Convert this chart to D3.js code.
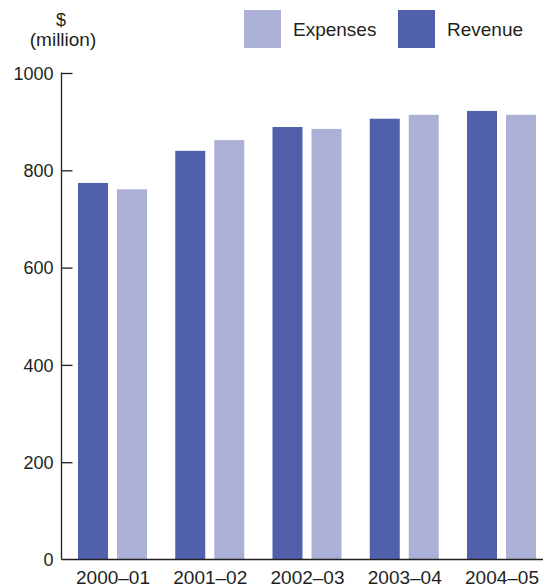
<!DOCTYPE html>
<html>
<head>
<meta charset="utf-8">
<script src="https://cdn.jsdelivr.net/npm/d3@7"></script>
<style>
  html, body { margin: 0; padding: 0; background: #fff; }
  svg { display: block; }
  text { font-family: "Liberation Sans", Arial, Helvetica, sans-serif; fill: #231f20; }
</style>
</head>
<body>
<svg id="chart" width="543" height="588"></svg>
<script>
// Financial years shown along the x axis
const years = ["2000–01", "2001–02", "2002–03", "2003–04", "2004–05"];
// $ million
const revenue  = [774, 840, 889, 906, 922];
const expenses = [761, 862, 885, 914, 914];
const yTicks = [0, 200, 400, 600, 800, 1000];
const seriesNames = ["Revenue", "Expenses"];
const legendOrder = ["Expenses", "Revenue"];

const colors = { Revenue: "#5060ab", Expenses: "#adb0d6" };
const values = { Revenue: revenue, Expenses: expenses };

const svg = d3.select("#chart");
const axisX = 61.5, baseY = 559.5, topY = 73;
const fontSize = "19px";

const y = d3.scaleLinear().domain([0, 1000]).range([baseY, topY]);
const x = d3.scalePoint().domain(years).range([112.5, 501.5]);
const xs = d3.scaleBand().domain(seriesNames).range([-34.5, 34.5])
  .paddingInner(9 / 39).paddingOuter(0);

// bars
seriesNames.forEach(name => {
  svg.append("g").selectAll("rect")
    .data(years.map((yr, i) => ({ yr, v: values[name][i] })))
    .join("rect")
    .attr("x", d => x(d.yr) + xs(name))
    .attr("width", xs.bandwidth())
    .attr("y", d => y(d.v))
    .attr("height", d => baseY - y(d.v))
    .attr("fill", colors[name]);
});

// y axis with inward ticks
const yAxis = d3.axisRight(y).tickValues(yTicks).tickSize(11).tickFormat(d3.format("d"));
const gy = svg.append("g").attr("transform", `translate(${axisX},0)`).call(yAxis);
gy.select(".domain").remove();
gy.selectAll(".tick line").attr("stroke", "#231f20").attr("stroke-width", 1.3);
gy.selectAll(".tick text")
  .attr("x", -8).attr("text-anchor", "end")
  .attr("dy", "0.35em")
  .style("font-size", "18px");
gy.selectAll(".tick").filter(d => d === 0).select("line").remove();

svg.append("line")
  .attr("x1", axisX).attr("x2", axisX)
  .attr("y1", topY - 0.6).attr("y2", baseY)
  .attr("stroke", "#231f20").attr("stroke-width", 1.3);

// x axis baseline and category labels
const xAxis = d3.axisBottom(x).tickSize(0).tickPadding(11);
const gx = svg.append("g").attr("transform", `translate(0,${baseY})`).call(xAxis);
gx.select(".domain").remove();
gx.selectAll(".tick text").style("font-size", fontSize).attr("dy", "0.71em");
svg.append("line")
  .attr("x1", axisX).attr("x2", 543)
  .attr("y1", baseY).attr("y2", baseY)
  .attr("stroke", "#231f20").attr("stroke-width", 1.3);

// unit label
svg.append("text").attr("x", 61).attr("y", 26).attr("text-anchor", "middle")
  .style("font-size", "18px").text("$");
svg.append("text").attr("x", 63).attr("y", 46).attr("text-anchor", "middle")
  .style("font-size", fontSize).text("(million)");

// legend
const legendX = { Expenses: 244, Revenue: 398 };
legendOrder.forEach(name => {
  const g = svg.append("g").attr("transform", `translate(${legendX[name]},10)`);
  g.append("rect").attr("width", 37).attr("height", 38).attr("fill", colors[name]);
  g.append("text").attr("x", 49).attr("y", 19).attr("dy", "0.35em")
    .style("font-size", fontSize).text(name);
});
</script>
</body>
</html>
